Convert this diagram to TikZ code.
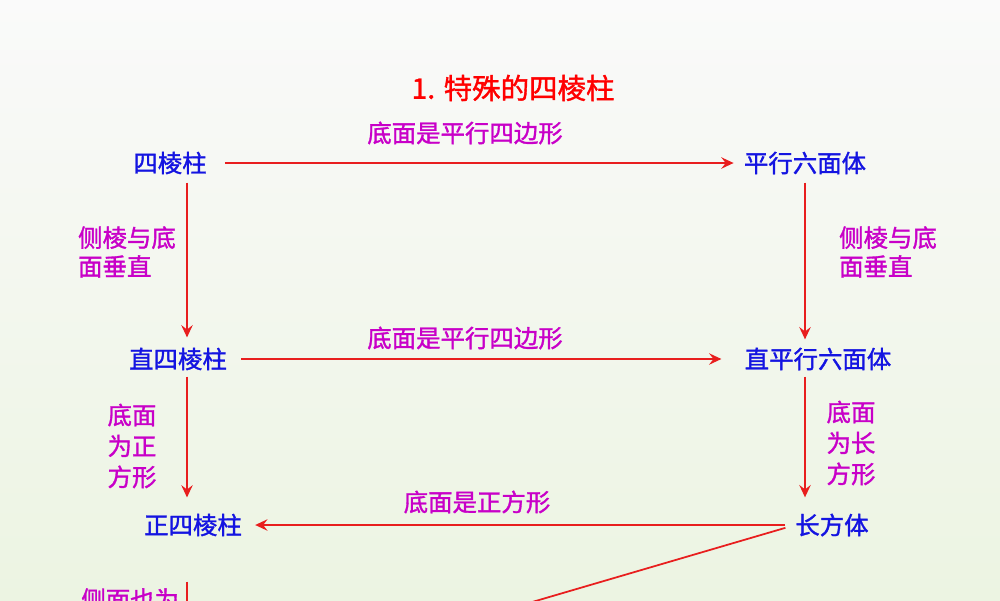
\documentclass[tikz,border=0pt]{standalone}
\usepackage{fontspec}
\usepackage{tikz}
\usepackage{xcolor}
\usetikzlibrary{arrows.meta}
\newfontfamily\cjk[FakeBold=1.3]{Noto Sans CJK SC}
\definecolor{nodeblue}{RGB}{20,20,225}
\definecolor{labelpink}{RGB}{200,0,200}
\definecolor{arrowred}{RGB}{232,30,30}
\definecolor{bgtop}{RGB}{250,250,250}
\definecolor{bgbottom}{RGB}{236,244,226}

\begin{document}
\begin{tikzpicture}[x=0.02cm, y=-0.02cm,
	solid/.style={cjk node, text=nodeblue, font=\cjk\fontsize{13.9}{16}\selectfont},
	cjk node/.style={inner sep=0pt},
	cond/.style={cjk node, text=labelpink, align=left, font=\cjk\fontsize{13.9}{16.4}\selectfont},
	tallcond/.style={cond, font=\cjk\fontsize{13.9}{17.6}\selectfont},
	implies/.style={draw=arrowred, line width=1pt, -{Stealth[length=7pt,width=6.5pt,inset=2.5pt]}},
	plainline/.style={draw=arrowred, line width=1pt}]
	\useasboundingbox (0,0) rectangle (1000,600);
	\clip (0,0) rectangle (1000,600);
	\shade[top color=bgtop, bottom color=bgbottom] (0,0) rectangle (1000,600);

	\node[cjk node, text=red, font=\cjk\fontsize{16.2}{18}\selectfont] (title) at (513,88) {1. 特殊的四棱柱};

	\coordinate (lcol) at (187,0);
	\coordinate (rcol) at (805,0);

	\node[solid] (sileng) at (170,163) {四棱柱};
	\node[solid] (pxlmt) at (805,163) {平行六面体};
	\node[solid] (zhisileng) at (178,359) {直四棱柱};
	\node[solid] (zhipxlmt) at (818,359) {直平行六面体};
	\node[solid] (zhengsileng) at (193,525) {正四棱柱};
	\node[solid] (changfangti) at (832,525) {长方体};

	\coordinate (diagend) at (440,629);
	\coordinate (downend) at (187,640);

	\draw[implies, shorten <=0.36cm, shorten >=0.2cm] (sileng.east) -- (pxlmt.west);
	\node[cond] (base1) at (465,133) {底面是平行四边形};

	\draw[implies, shorten <=0.28cm, shorten >=0.46cm] (zhisileng.east) -- (zhipxlmt.west);
	\node[cond] (base2) at (465,338) {底面是平行四边形};

	\draw[implies, shorten <=0.2cm, shorten >=0.26cm] (changfangti.west) -- (zhengsileng.east);
	\node[cond] (base3) at (477,502) {底面是正方形};

	\draw[implies, shorten <=0.16cm, shorten >=0.2cm] (sileng.south -| lcol) -- (zhisileng.north -| lcol);
	\node[cond] (edge1) at (127,252) {侧棱与底\\面垂直};
	\draw[implies, shorten <=0.16cm, shorten >=0.16cm] (pxlmt.south -| rcol) -- (zhipxlmt.north -| rcol);
	\node[cond] (edge2) at (888,252) {侧棱与底\\面垂直};

	\draw[implies, shorten <=0.12cm, shorten >=0.32cm] (zhisileng.south -| lcol) -- (zhengsileng.north -| lcol);
	\node[tallcond] (square) at (132,446) {底面\\为正\\方形};
	\draw[implies, shorten <=0.12cm, shorten >=0.32cm] (zhipxlmt.south -| rcol) -- (changfangti.north -| rcol);
	\node[tallcond] (rect) at (851,443) {底面\\为长\\方形};

	\draw[plainline, shorten <=0.2cm] (changfangti.west) -- (diagend);
	\draw[plainline, shorten <=0.9cm] (zhengsileng.south -| lcol) -- (downend);
	\node[cond, anchor=north west] (side) at (81,588) {侧面也为};
\end{tikzpicture}
\end{document}
